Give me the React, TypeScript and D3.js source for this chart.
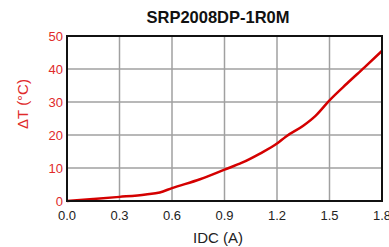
import React from "react";
import * as d3 from "d3";

const currentA = [0, 0.15, 0.3, 0.45, 0.53, 0.6, 0.76, 0.9, 1.0, 1.1, 1.2, 1.25, 1.35, 1.42, 1.5, 1.6, 1.7, 1.8];
const deltaT = [0, 0.6, 1.25, 2.0, 2.6, 3.9, 6.6, 9.5, 11.6, 14.3, 17.4, 19.5, 22.8, 25.8, 30.5, 35.6, 40.5, 45.5];
const xTicks = [0, 0.3, 0.6, 0.9, 1.2, 1.5, 1.8];
const yTicks = [0, 10, 20, 30, 40, 50];

const W = 389;
const H = 247;
const left = 67, right = 382, top = 36, bottom = 201;
const red = "#e02a2a";
const font = "'Liberation Sans Narrow', 'Liberation Sans', Arial, sans-serif";

const App = () => {
  const x = d3.scaleLinear().domain([0, 1.8]).range([left, right]);
  const y = d3.scaleLinear().domain([0, 50]).range([bottom, top]);
  const pts: [number, number][] = currentA.map((a, i) => [a, deltaT[i]]);
  const line = d3
    .line<[number, number]>()
    .x(d => x(d[0]))
    .y(d => y(d[1]))
    .curve(d3.curveMonotoneX);

  return (
    <svg width={W} height={H} style={{ position: "absolute", left: 0, top: 0 }}>
      <rect width={W} height={H} fill="#fff" />
      <text x={218} y={23} textAnchor="middle" fontFamily="'Liberation Sans', Arial, sans-serif" fontWeight="bold" fontSize={16.5} fill="#111">
        SRP2008DP-1R0M
      </text>
      {xTicks.slice(1, -1).map(t => (
        <line key={"gx" + t} x1={x(t)} x2={x(t)} y1={top} y2={bottom} stroke="#a0a0a0" strokeWidth={1.5} />
      ))}
      {yTicks.slice(1, -1).map(t => (
        <line key={"gy" + t} x1={left} x2={right} y1={y(t)} y2={y(t)} stroke="#a0a0a0" strokeWidth={1.5} />
      ))}
      <path d={line(pts) || ""} fill="none" stroke="#d40000" strokeWidth={2.5} strokeLinejoin="round" />
      <rect x={left} y={top} width={right - left} height={bottom - top} fill="none" stroke="#111" strokeWidth={2} />
      {yTicks.map(t => (
        <text key={"ty" + t} x={63} y={y(t) + 4.5} textAnchor="end" fontFamily={font} fontSize={13} fill={red}>
          {t}
        </text>
      ))}
      {xTicks.map(t => (
        <text key={"tx" + t} x={x(t)} y={220} textAnchor="middle" fontFamily={font} fontSize={13} fill="#222">
          {d3.format(".1f")(t)}
        </text>
      ))}
      <text x={218} y={243} textAnchor="middle" fontFamily={font} fontSize={15} fill="#222">
        IDC (A)
      </text>
      <text transform="translate(28,104) rotate(-90)" textAnchor="middle" fontFamily={font} fontSize={15} fill={red}>
        ΔT (°C)
      </text>
    </svg>
  );
};

export default App;
